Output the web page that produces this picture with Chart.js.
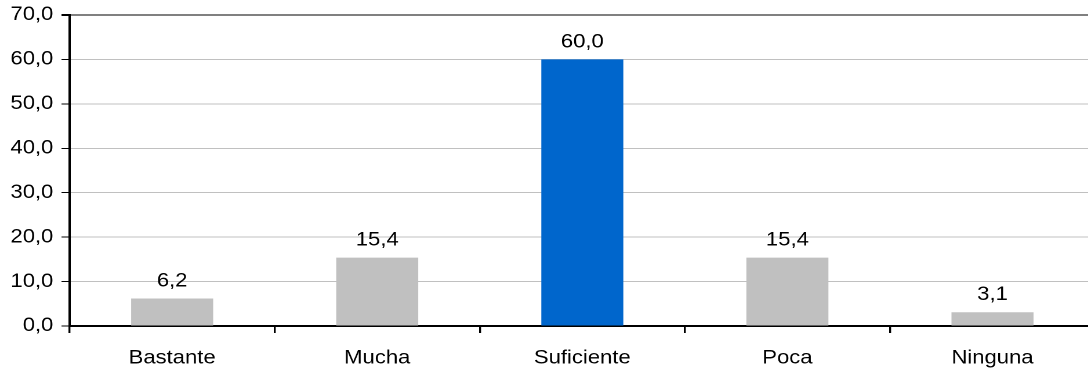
<!DOCTYPE html>
<html>
<head>
<meta charset="utf-8">
<script src="https://cdn.jsdelivr.net/npm/chart.js@4/dist/chart.umd.min.js"></script>
<style>
  html, body { margin: 0; padding: 0; background: #fff; }
  #frame { width: 1088px; height: 375px; overflow: hidden; position: relative; }
  #stretch { width: 944px; height: 375px; transform: scaleX(1.16); transform-origin: 0 0; }
</style>
</head>
<body>
<div id="frame"><div id="stretch"><canvas id="c" width="944" height="375"></canvas></div></div>
<script>
// Response categories and percentages
const categories = ['Bastante', 'Mucha', 'Suficiente', 'Poca', 'Ninguna'];
const values = [6.2, 15.4, 60.0, 15.4, 3.1];
const highlighted = [false, false, true, false, false];
const yMin = 0;
const yMax = 70;
const yStep = 10;

const GRAY = '#c0c0c0';
const BLUE = '#0066cc';
const FONT = { family: '"Liberation Sans", Arial, sans-serif', size: 19 };

const fmt = v => Number(v).toFixed(1).replace('.', ',');

// Writes each bar's value above it
const valueLabels = {
  id: 'valueLabels',
  afterDatasetsDraw(chart) {
    const ctx = chart.ctx;
    const meta = chart.getDatasetMeta(0);
    ctx.save();
    ctx.font = `${FONT.size}px ${FONT.family}`;
    ctx.fillStyle = '#000';
    ctx.textAlign = 'center';
    ctx.textBaseline = 'alphabetic';
    meta.data.forEach((bar, i) => {
      ctx.fillText(fmt(chart.data.datasets[0].data[i]), bar.x, bar.y - 12);
    });
    ctx.restore();
  }
};

new Chart(document.getElementById('c'), {
  type: 'bar',
  data: {
    labels: categories,
    datasets: [{
      data: values,
      backgroundColor: highlighted.map(h => h ? BLUE : GRAY),
      borderWidth: 0,
      categoryPercentage: 1,
      barPercentage: 0.4
    }]
  },
  options: {
    responsive: false,
    devicePixelRatio: 2,
    animation: false,
    layout: { padding: { top: 15, right: 0, bottom: 0, left: 0 } },
    plugins: { legend: { display: false }, tooltip: { enabled: false } },
    scales: {
      x: {
        grid: {
          offset: true,
          drawOnChartArea: false,
          drawTicks: true,
          tickLength: 7,
          tickColor: '#000',
          lineWidth: 1.7
        },
        border: { color: '#000', width: 2 },
        ticks: { color: '#000', font: FONT, padding: 14, maxRotation: 0 },
        afterFit(scale) { scale.height = 49; }
      },
      y: {
        min: yMin,
        max: yMax,
        ticks: {
          stepSize: yStep,
          color: '#000',
          font: FONT,
          padding: 7,
          callback: v => fmt(v)
        },
        grid: {
          color: c => (c.tick && c.tick.value === yMax) ? '#808080' : GRAY,
          lineWidth: c => (c.tick && c.tick.value === yMax) ? 2 : 1,
          tickColor: '#000',
          tickLength: 7
        },
        border: { color: '#000', width: 2 },
        afterFit(scale) {
          scale.width = 60;
          scale.paddingTop = 0;
          scale.paddingBottom = 0;
        }
      }
    }
  },
  plugins: [valueLabels]
});
</script>
</body>
</html>
